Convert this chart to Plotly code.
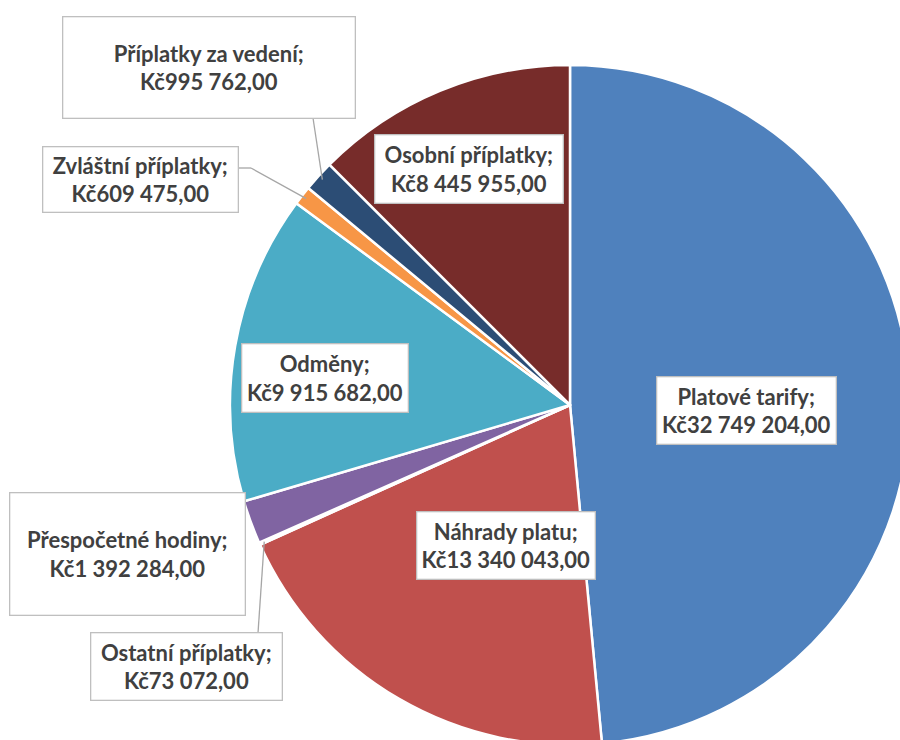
import math
import plotly.graph_objects as go

# ---- data ----
categories = ["Platové tarify", "Náhrady platu", "Ostatní příplatky", "Přespočetné hodiny",
              "Odměny", "Zvláštní příplatky", "Příplatky za vedení", "Osobní příplatky"]
values = [32749204, 13340043, 73072, 1392284, 9915682, 609475, 995762, 8445955]
colors = ["#4F81BD", "#C0504D", "#9BBB59", "#8064A2", "#4BACC6", "#F79646", "#2C4D75", "#772C2A"]

# ---- layout (pixels on the page) ----
W, H = 1000, 800
CX, CY, R = 570, 405, 340

# label boxes: (left, top, right, bottom) in page pixels
boxes = {
    "Platové tarify": (657, 377, 836, 444),
    "Náhrady platu": (417, 512, 595, 579),
    "Ostatní příplatky": (91, 633, 282, 700),
    "Přespočetné hodiny": (10, 493, 245, 615),
    "Odměny": (242, 344, 408, 412),
    "Zvláštní příplatky": (43, 147, 238, 212),
    "Příplatky za vedení": (63, 17, 355, 118),
    "Osobní příplatky": (375, 135, 563, 203),
}
# leader lines: polyline from box edge, final point on slice edge (computed from data)
leaders = {
    "Ostatní příplatky": [(258, 633)],
    "Zvláštní příplatky": [(238, 168), (251, 168)],
    "Příplatky za vedení": [(313, 118)],
}


def fmt(v):
    s = f"{v:,.2f}"
    return "Kč" + s.replace(",", " ").replace(".", ",")


def px(x):
    return x / W


def py(y):
    return 1 - y / H


fig = go.Figure()
fig.add_trace(go.Pie(
    labels=categories,
    values=values,
    sort=False,
    direction="clockwise",
    rotation=0,
    textinfo="none",
    marker=dict(colors=colors, line=dict(color="white", width=2.5)),
    showlegend=False,
    domain=dict(x=[px(CX - R), px(CX + R)], y=[py(CY + R), py(CY - R)]),
))

total = sum(values)
cum = 0
mids = {}
for c, v in zip(categories, values):
    mids[c] = (cum + v / 2) / total * 2 * math.pi
    cum += v

shapes = []
for c, pts in leaders.items():
    a = mids[c]
    ex = CX + 0.985 * R * math.sin(a)
    ey = CY - 0.985 * R * math.cos(a)
    allpts = pts + [(ex, ey)]
    for (x0, y0), (x1, y1) in zip(allpts[:-1], allpts[1:]):
        shapes.append(dict(type="line", xref="paper", yref="paper",
                           x0=px(x0), y0=py(y0), x1=px(x1), y1=py(y1),
                           line=dict(color="#A6A6A6", width=1.3)))

annotations = []
for c, v in zip(categories, values):
    l, t, r_, b = boxes[c]
    annotations.append(dict(
        x=px((l + r_) / 2), y=py((t + b) / 2), xref="paper", yref="paper",
        xanchor="center", yanchor="middle",
        text=f"{c};<br>{fmt(v)}", showarrow=False,
        width=r_ - l - 1, height=b - t - 1, borderpad=0,
        bgcolor="white", bordercolor="#BFBFBF", borderwidth=1.3,
        font=dict(family="Lato", size=22, color="#404040", weight="bold"),
        align="center", valign="middle",
    ))

fig.update_layout(
    width=W, height=H,
    margin=dict(l=0, r=0, t=0, b=0),
    paper_bgcolor="white", plot_bgcolor="white",
    shapes=shapes, annotations=annotations,
)

fig.write_html("out.html", post_script=(
    "document.body.style.margin='0';document.body.style.overflow='hidden';"
    "document.documentElement.style.overflow='hidden';"))
